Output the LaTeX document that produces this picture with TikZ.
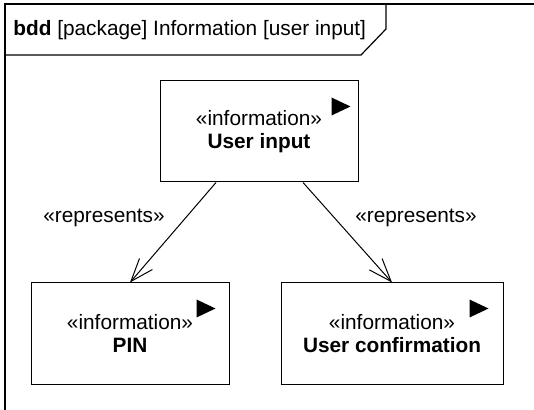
\documentclass[tikz,border=0pt]{standalone}
\usepackage{fontspec}
\setmainfont{Liberation Sans}
\usetikzlibrary{arrows.meta,positioning,calc}

\begin{document}
\begin{tikzpicture}[
    x=0.5pt, y=-0.5pt,
    font=\fontsize{10.4}{11.5}\selectfont,
    block/.style={rectangle, draw, line width=0.5pt, align=center, inner sep=0pt, minimum height=50.5pt},
    lbl/.style={anchor=base, inner sep=0pt},
    rep/.style={-{Straight Barb[length=11.5pt, width=8.5pt]}, line width=0.5pt}
]
\useasboundingbox (0,0) rectangle (534,410);
\clip (0,0) rectangle (534,410);
% frame and heading tab
\draw[line width=0.6pt] (5,420) -- (5,4) -- (540,4);
\draw[line width=0.6pt] (5,55) -- (361,55) -- (386,29) -- (386,4);
\node[anchor=base west, inner sep=0pt] (title) at (13,36) {\textbf{bdd} [package] Information [user input]};
% blocks
\node[block, minimum width=99pt] (userinput) at (259,131.5) {«information»\\\textbf{User input}};
\node[block, minimum width=99pt] (pin) at (130,333.5) {«information»\\\textbf{PIN}};
\node[block, minimum width=111pt, right=25.5pt of pin] (confirm) {«information»\\\textbf{User confirmation}};
% information flow markers
\foreach \n/\d in {userinput/27, pin/33, confirm/34}
    \fill ($(\n.north east)+(-\d,17)$) -- ++(0,18) -- ++(19,-9) -- cycle;
% represents
\draw[rep] ([xshift=-21.5pt]userinput.south) -- (pin.north);
\draw[rep] ([xshift=22pt]userinput.south) -- (confirm.north);
\node[lbl] (repleft) at (104,223) {«represents»};
\node[lbl] (repright) at (416,223) {«represents»};
\end{tikzpicture}
\end{document}
